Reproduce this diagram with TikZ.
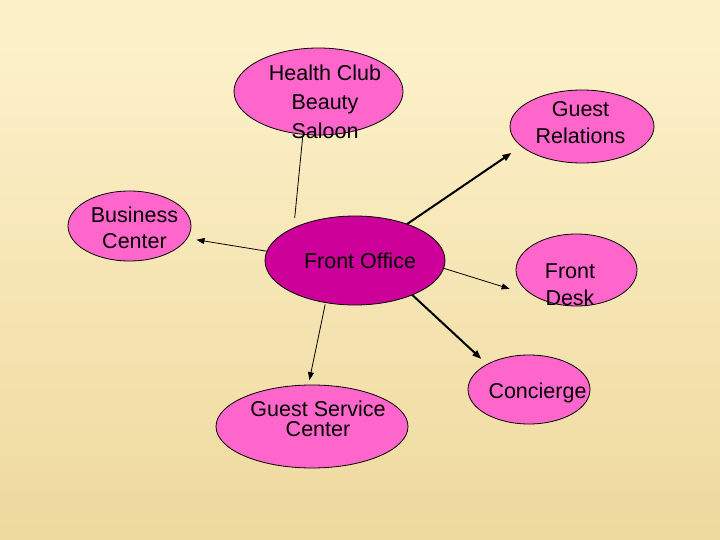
\documentclass[tikz,border=0pt]{standalone}
\usepackage{fontspec}
\setmainfont{Liberation Sans}
\usepackage{xcolor}
\usepackage{tikz}
\usetikzlibrary{arrows.meta,shapes.geometric}

\definecolor{bgtop}{RGB}{253,241,202}
\definecolor{bgbot}{RGB}{238,217,158}
\definecolor{pinkfill}{RGB}{255,102,204}
\definecolor{hubfill}{RGB}{204,0,153}

\begin{document}
\begin{tikzpicture}[x=1pt,y=-1pt,
  bubble/.style={ellipse,draw=black,line width=0.8pt,fill=pinkfill,inner sep=0pt,outer sep=0pt},
  lbl/.style={align=center,inner sep=0pt,font=\fontsize{21.5}{#1}\selectfont},
  lbl/.default=27,
  link/.style={line width=0.8pt},
  thinarrow/.style={line width=0.8pt,-{Triangle[length=8pt,width=6pt]}},
  thickarrow/.style={line width=2pt,-{Triangle[length=9pt,width=6.5pt]}}]
  \useasboundingbox (0,0) rectangle (720,540);
  \fill[bgtop] (0,0) rectangle (720,40);
  \fill[top color=bgtop,bottom color=bgbot] (0,40) rectangle (720,540);
  % the bubbles
  \node[bubble,minimum width=169pt,minimum height=87pt] (hc) at (318.5,91.5) {};
  \node[bubble,minimum width=123pt,minimum height=70pt] (bc) at (129.5,226) {};
  \node[bubble,fill=hubfill,minimum width=180pt,minimum height=89pt] (fo) at (355,260.5) {};
  \node[bubble,minimum width=144pt,minimum height=73pt] (gr) at (582,126.5) {};
  \node[bubble,minimum width=121pt,minimum height=72pt] (fd) at (576.5,270) {};
  \node[bubble,minimum width=122pt,minimum height=69pt] (co) at (529,389.5) {};
  \node[bubble,minimum width=192pt,minimum height=83pt] (gsc) at (312,426.5) {};
  % their texts
  \node[lbl=29] (hct) at (325,101.5) {Health Club\\Beauty\\Saloon};
  \node[lbl=26] (bct) at (134.5,228) {Business\\Center};
  \node[lbl] (fot) at (360,261) {Front Office};
  \node[lbl] (grt) at (580.5,122.5) {Guest\\Relations};
  \node[lbl] (fdt) at (570,284.5) {Front\\Desk};
  \node[lbl] (cot) at (537.5,393) {Concierge};
  \node[lbl=20.5] (gsct) at (318,419) {Guest Service\\Center};
  % links
  \draw[link,shorten <=3pt,shorten >=10pt] (hc.-110) -- (fo.152);
  \draw[thinarrow,shorten >=9.5pt] (fo.174) -- (bc.-12.5);
  \draw[thickarrow,shorten >=12pt] (fo.35) -- (gr.198);
  \draw[thinarrow,shorten >=29pt] (fo.-5) -- (fd.215);
  \draw[thickarrow,shorten >=8pt] (fo.-31) -- (co.149);
  \draw[thinarrow,shorten <=2pt,shorten >=5pt] (fo.-125) -- (gsc.95);
\end{tikzpicture}
\end{document}
